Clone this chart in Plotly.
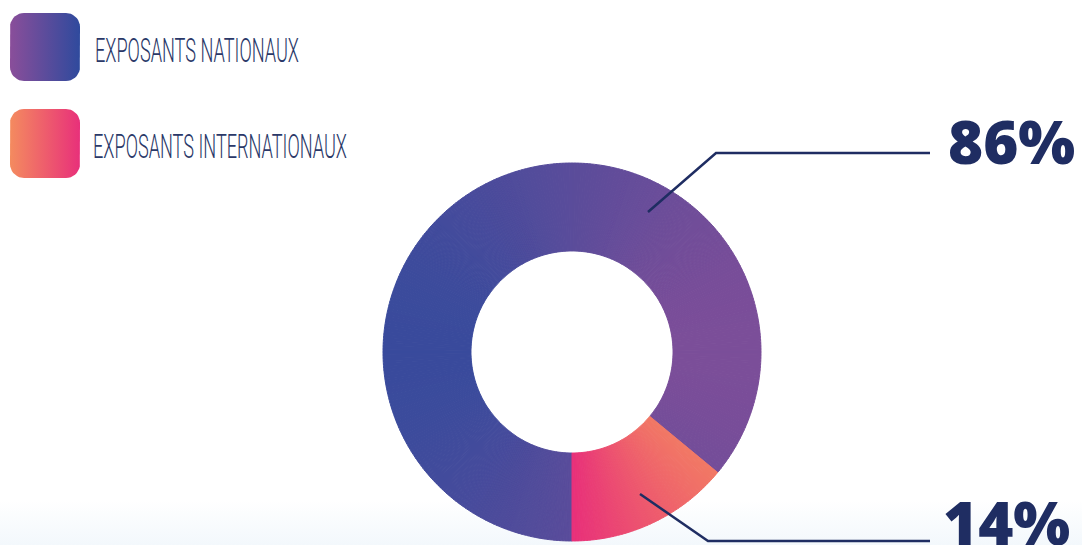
import numpy as np
import plotly.graph_objects as go

# ---------------- data ----------------
categories = ["EXPOSANTS NATIONAUX", "EXPOSANTS INTERNATIONAUX"]
values = [86, 14]
value_labels = ["86%", "14%"]

# gradient colours (left -> right) used on the ring and on the legend swatches
ring_grad = [("#2F4A9D", "#854E98"), ("#E8307A", "#F48B5F")]
swatch_grad = [("#8A4E9A", "#2F4A9D"), ("#F48B5F", "#E8307A")]

W, H = 1082, 545
CX, CY, R_OUT, R_IN = 572, 352, 189, 101
NAVY = "#1F2D62"
TEXT = "#2A3868"


def hex2rgb(h):
    h = h.lstrip("#")
    return np.array([int(h[i:i + 2], 16) for i in (0, 2, 4)], float)


def mix(c1, c2, t):
    t = min(max(t, 0.0), 1.0)
    a, b = hex2rgb(c1), hex2rgb(c2)
    c = a + (b - a) * t
    return "rgb(%d,%d,%d)" % tuple(np.round(c))


# split each slice into thin sub-slices so the horizontal gradient can be approximated
step = 0.25
sub_vals, sub_cols, sub_names = [], [], []
angle = 180.0  # start at 6 o'clock, going clockwise
rm = (R_OUT + R_IN) / 2
total = sum(values)
for i, v in enumerate(values):
    n = int(round(v / step))
    dv = v / n
    if i == 0:
        x0, x1 = CX - R_OUT, CX + R_OUT
    else:
        x0, x1 = CX, CX + 140
    for k in range(n):
        mid = angle + 360.0 * (dv / 2) / total
        xm = CX + rm * np.sin(np.radians(mid))
        sub_cols.append(mix(ring_grad[i][0], ring_grad[i][1], (xm - x0) / (x1 - x0)))
        sub_vals.append(dv)
        sub_names.append(categories[i])
        angle += 360.0 * dv / total

fig = go.Figure()

# faint bottom fade of the background
fig.add_trace(go.Scatter(
    x=[0, W, W, 0, 0], y=[500, 500, H, H, 500], mode="lines", fill="toself",
    line=dict(width=0), hoverinfo="skip", showlegend=False,
    fillgradient=dict(type="vertical", colorscale=[[0, "rgba(243,248,252,1)"], [1, "rgba(255,255,255,1)"]]),
))


def rounded_rect(x0, y0, x1, y1, r, n=10):
    xs, ys = [], []
    corners = [(x1 - r, y0 + r, -90, 0), (x1 - r, y1 - r, 0, 90),
               (x0 + r, y1 - r, 90, 180), (x0 + r, y0 + r, 180, 270)]
    for cx, cy, a0, a1 in corners:
        for a in np.linspace(a0, a1, n):
            xs.append(cx + r * np.cos(np.radians(a)))
            ys.append(cy + r * np.sin(np.radians(a)))
    xs.append(xs[0]); ys.append(ys[0])
    return xs, ys


swatch_boxes = [(10, 13, 80, 81), (10, 109, 80, 178)]
for (x0, y0, x1, y1), (c1, c2) in zip(swatch_boxes, swatch_grad):
    xs, ys = rounded_rect(x0, y0, x1, y1, 14)
    fig.add_trace(go.Scatter(
        x=xs, y=ys, mode="lines", fill="toself", line=dict(width=0),
        hoverinfo="skip", showlegend=False,
        fillgradient=dict(type="horizontal", colorscale=[[0, c1], [1, c2]]),
    ))

fig.add_trace(go.Pie(
    values=sub_vals, labels=[str(i) for i in range(len(sub_vals))],
    customdata=sub_names, hovertemplate="%{customdata}<extra></extra>",
    marker=dict(colors=sub_cols, line=dict(color=sub_cols, width=1)),
    sort=False, direction="clockwise", rotation=180, hole=R_IN / R_OUT,
    textinfo="none", showlegend=False,
    domain=dict(x=[(CX - R_OUT) / W, (CX + R_OUT) / W],
                y=[1 - (CY + R_OUT) / H, 1 - (CY - R_OUT) / H]),
))

# leader lines (drawn above the ring)
leaders = [[(648, 212), (716, 153), (930, 153)], [(640, 494), (708, 541), (930, 541)]]
shapes = []
for pts in leaders:
    path = "M %d %d " % pts[0] + " ".join("L %d %d" % p for p in pts[1:])
    shapes.append(dict(type="path", path=path, xref="x", yref="y", layer="above",
                       line=dict(color=NAVY, width=2.5)))

annotations = []
legend_text_pos = [(93, 50), (91, 146)]
for (x, y), name in zip(legend_text_pos, categories):
    annotations.append(dict(x=x, y=y, xref="x", yref="y", text=name, showarrow=False,
                            xanchor="left", yanchor="middle",
                            font=dict(family="Roboto", size=34, weight=300, color=TEXT)))
value_pos = [(946, 141), (941, 522)]
for (x, y), t in zip(value_pos, value_labels):
    annotations.append(dict(x=x, y=y, xref="x", yref="y", text=t, showarrow=False,
                            xanchor="left", yanchor="middle",
                            font=dict(family="Open Sans", size=60, weight=800, color=NAVY)))

fig.update_layout(
    width=W, height=H, margin=dict(l=0, r=0, t=0, b=0),
    paper_bgcolor="white", plot_bgcolor="rgba(0,0,0,0)",
    xaxis=dict(range=[0, W], visible=False, fixedrange=True),
    yaxis=dict(range=[H, 0], visible=False, fixedrange=True),
    annotations=annotations, shapes=shapes, showlegend=False,
)

# remove the default page margin and condense the legend labels horizontally
post = """
document.body.style.margin = '0';
document.body.style.overflow = 'hidden';
var targets = {'EXPOSANTS NATIONAUX': 204, 'EXPOSANTS INTERNATIONAUX': 254};
document.querySelectorAll('text.annotation-text').forEach(function(el){
  var t = el.textContent;
  if (targets[t]) {
    var bb = el.getBBox();
    var s = targets[t] / bb.width;
    var prev = el.getAttribute('transform') || '';
    el.setAttribute('transform', prev + ' translate(' + bb.x + ',0) scale(' + s + ',1) translate(' + (-bb.x) + ',0)');
  }
});
"""

fig.write_html("out.html", post_script=post, config={"displayModeBar": False})
